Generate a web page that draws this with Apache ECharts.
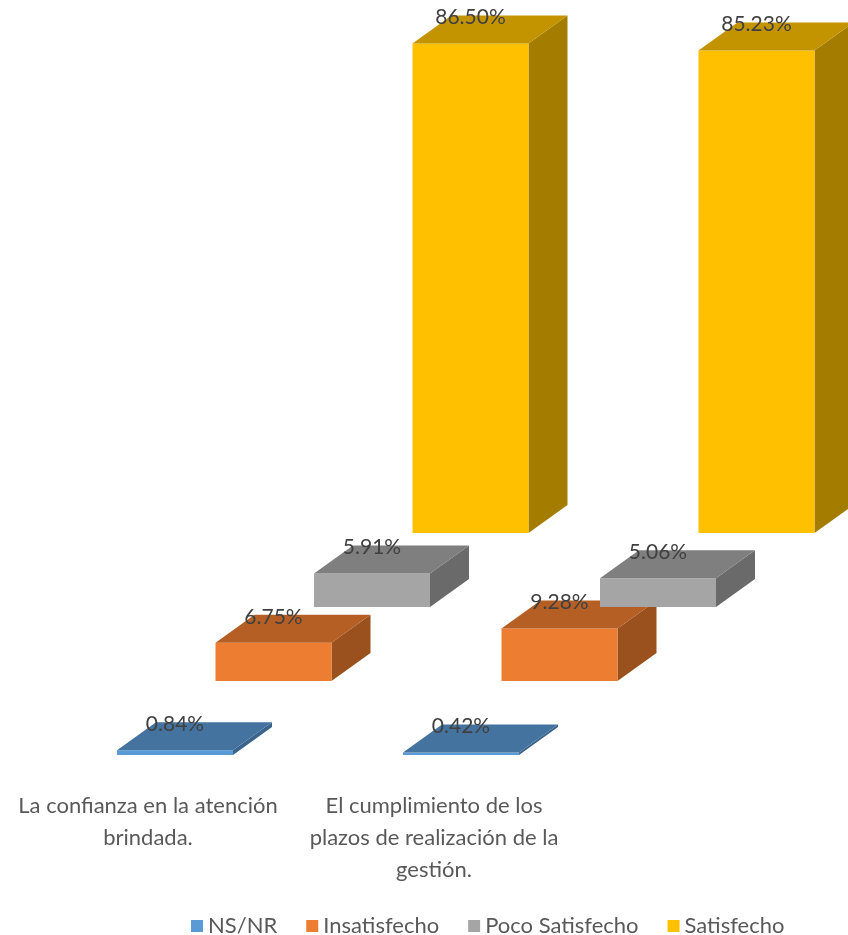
<!DOCTYPE html>
<html>
<head>
<meta charset="utf-8">
<script src="https://cdn.jsdelivr.net/npm/echarts@6/dist/echarts.min.js"></script>
<style>
html,body{margin:0;padding:0;background:#fff;}
#chart{width:848px;height:935px;}
</style>
</head>
<body>
<div id="chart"></div>
<script>
const categories = ['La confianza en la atención\nbrindada.', 'El cumplimiento de los\nplazos de realización de la\ngestión.'];
const seriesNames = ['NS/NR', 'Insatisfecho', 'Poco Satisfecho', 'Satisfecho'];
const nsnr = [0.84, 0.42];
const insatisfecho = [6.75, 9.28];
const pocoSatisfecho = [5.91, 5.06];
const satisfecho = [86.50, 85.23];
const seriesValues = [nsnr, insatisfecho, pocoSatisfecho, satisfecho];

const frontColors = ['#5B9BD5', '#ED7D31', '#A5A5A5', '#FFC000'];
const topColors = ['#44739F', '#B65F24', '#7F7F7F', '#C49400'];
const sideColors = ['#3A648C', '#9A511E', '#6A6A6A', '#A47C00'];

const BAR_W = 116;      // front face width
const OFF_X = 27;       // offset of first row center from category center
const ROW_DX = 98.5;    // per-series horizontal shift (depth rows)
const ROW_DY = 74;      // per-series vertical shift
const DEPTH_X = 39;     // 3D depth projection
const DEPTH_Y = 28;

function renderBox(params, api) {
  const s = params.seriesIndex;
  const base = api.coord([api.value(0), 0]);
  const topPt = api.coord([api.value(0), api.value(1)]);
  const h = base[1] - topPt[1];
  const cx = base[0] + OFF_X + s * ROW_DX;
  const by = base[1] - s * ROW_DY;
  const x0 = cx - BAR_W / 2, x1 = cx + BAR_W / 2;
  const ty = by - h;
  const v = api.value(1);
  return {
    type: 'group',
    children: [
      { type: 'polygon', shape: { points: [[x1, ty], [x1, by], [x1 + DEPTH_X, by - DEPTH_Y], [x1 + DEPTH_X, ty - DEPTH_Y]] },
        style: { fill: sideColors[s] } },
      { type: 'rect', shape: { x: x0, y: ty, width: BAR_W, height: h },
        style: { fill: frontColors[s] } },
      { type: 'polygon', shape: { points: [[x0, ty], [x1, ty], [x1 + DEPTH_X, ty - DEPTH_Y], [x0 + DEPTH_X, ty - DEPTH_Y]] },
        style: { fill: topColors[s] } },
      { type: 'text', z2: 100, style: { x: cx, y: ty - DEPTH_Y + 2, text: v.toFixed(2) + '%', align: 'center', verticalAlign: 'middle',
        fill: '#404040', font: '21px Lato' } }
    ]
  };
}

const chart = echarts.init(document.getElementById('chart'), null, { renderer: 'canvas' });
chart.setOption({
  animation: false,
  backgroundColor: '#ffffff',
  color: frontColors,
  grid: { left: 5, right: 271, top: 189, bottom: 180 },
  xAxis: {
    type: 'category',
    data: categories,
    axisLine: { show: false },
    axisTick: { show: false },
    axisLabel: { color: '#595959', fontFamily: 'Lato', fontSize: 22, lineHeight: 32, margin: 35, interval: 0 }
  },
  yAxis: { type: 'value', min: 0, max: 100, show: false },
  legend: {
    left: 186, top: 910,
    itemWidth: 12, itemHeight: 12, itemGap: 29, icon: 'rect',
    textStyle: { color: '#595959', fontFamily: 'Lato', fontSize: 22 },
    data: seriesNames
  },
  series: seriesValues.map((vals, s) => ({
    type: 'custom',
    name: seriesNames[s],
    renderItem: renderBox,
    itemStyle: { color: frontColors[s] },
    encode: { x: 0, y: 1 },
    data: vals.map((v, i) => [i, v])
  }))
});
</script>
</body>
</html>
